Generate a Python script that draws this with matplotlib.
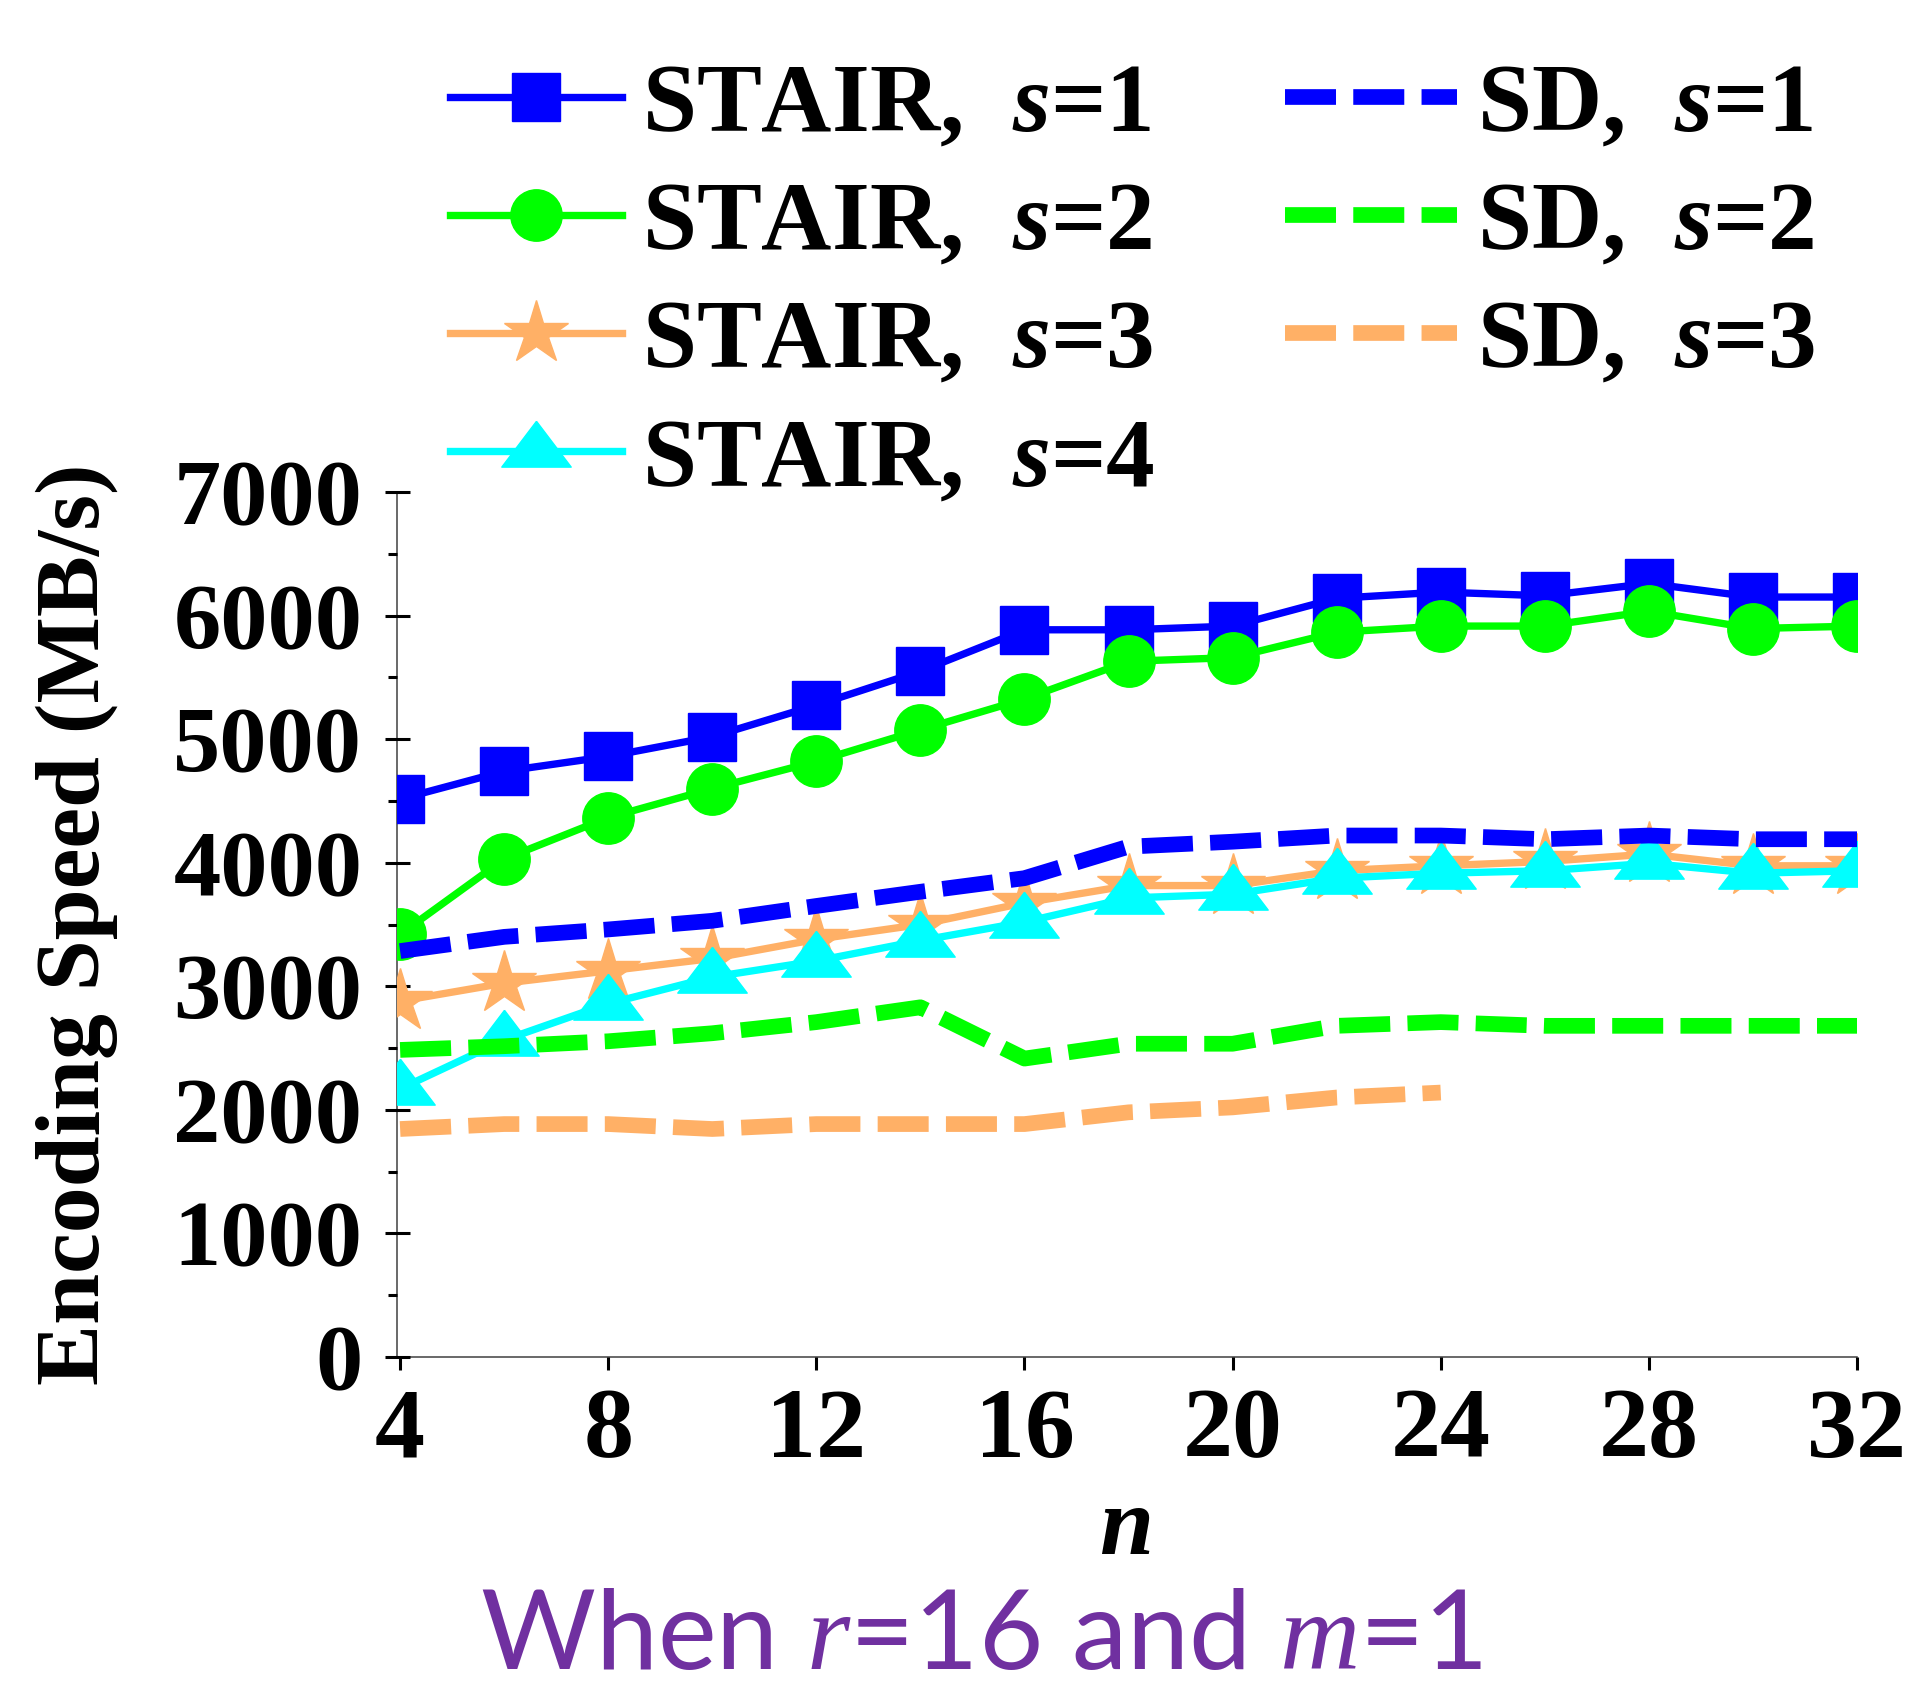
import matplotlib
matplotlib.use("Agg")
import matplotlib.pyplot as plt
import numpy as np

plt.rcParams['font.family'] = ['Liberation Serif', 'DejaVu Serif']
plt.rcParams['font.weight'] = 'bold'
plt.rcParams['mathtext.fontset'] = 'custom'
plt.rcParams['mathtext.rm'] = 'Liberation Serif:bold'
plt.rcParams['mathtext.it'] = 'Liberation Serif:italic:normal'
plt.rcParams['mathtext.bfit'] = 'Liberation Serif:italic:bold'

# data
n = [4, 6, 8, 10, 12, 14, 16, 18, 20, 22, 24, 26, 28, 30, 32]
stair_s1 = [4515, 4740, 4860, 5020, 5275, 5550, 5885, 5885, 5915, 6140, 6190, 6160, 6260, 6150, 6150]
stair_s2 = [3420, 4030, 4365, 4600, 4820, 5075, 5325, 5630, 5660, 5865, 5915, 5915, 6035, 5895, 5915]
stair_s3 = [2880, 3025, 3125, 3225, 3380, 3500, 3675, 3815, 3815, 3935, 3975, 4010, 4070, 3975, 3975]
stair_s4 = [2170, 2565, 2860, 3075, 3205, 3370, 3520, 3715, 3745, 3875, 3915, 3935, 3995, 3915, 3935]
sd_s1 = [3285, 3400, 3460, 3530, 3650, 3765, 3875, 4130, 4170, 4220, 4220, 4190, 4220, 4190, 4190]
sd_s2 = [2485, 2515, 2555, 2620, 2710, 2830, 2415, 2535, 2535, 2680, 2710, 2680, 2680, 2680, 2680]
n_sd3 = [4, 6, 8, 10, 12, 14, 16, 18, 20, 22, 24]
sd_s3 = [1845, 1885, 1885, 1845, 1885, 1885, 1885, 1980, 2020, 2100, 2140]

blue = '#0000FF'
green = '#00FF00'
orange = '#FFB066'
cyan = '#00FFFF'

# flattened triangle like the original
tri = [(0, 0.87), (-1, -0.45), (1, -0.45), (0, 0.87)]

fig = plt.figure(figsize=(19.08, 16.89), dpi=100)
ax = fig.add_axes([397 / 1908, 1 - 1357 / 1689, 1460 / 1908, 865 / 1689])

lw = 5.3
ax.plot(n, stair_s1, color=blue, lw=lw, marker='s', ms=34, label=r'STAIR,  $\mathbfit{s}$=1')
ax.plot(n, stair_s2, color=green, lw=lw, marker='o', ms=37, label=r'STAIR,  $\mathbfit{s}$=2')
ax.plot(n, stair_s3, color=orange, lw=lw, marker='*', ms=48, label=r'STAIR,  $\mathbfit{s}$=3')
ax.plot(n, stair_s4, color=cyan, lw=lw, marker=tri, ms=50, label=r'STAIR,  $\mathbfit{s}$=4')

dlw = 11.3
ax.plot(n, sd_s1, color=blue, lw=dlw, dashes=(3.25, 1.1), label=r'SD,  $\mathbfit{s}$=1')
ax.plot(n, sd_s2, color=green, lw=dlw, dashes=(3.25, 1.1), label=r'SD,  $\mathbfit{s}$=2')
ax.plot(n_sd3, sd_s3, color=orange, lw=dlw, dashes=(3.25, 1.1), label=r'SD,  $\mathbfit{s}$=3')

ax.set_xlim(3.94, 32)
ax.set_ylim(0, 7000)
ax.set_xticks(range(4, 33, 4))
ax.set_yticks(range(0, 7001, 1000))
ax.set_yticks(range(500, 7000, 1000), minor=True)

for side in ['top', 'right']:
    ax.spines[side].set_visible(False)
for side in ['left', 'bottom']:
    ax.spines[side].set_color('#404040')
    ax.spines[side].set_linewidth(1.1)
    ax.spines[side].set_zorder(0.5)

ax.tick_params(axis='y', which='major', direction='inout', length=18, width=2.2, pad=16, labelsize=68)
ax.tick_params(axis='y', which='minor', direction='out', length=6.5, width=2.2)
ax.tick_params(axis='x', which='major', direction='out', length=9, width=2.2, pad=13, labelsize=72)

ax.set_ylabel('Encoding Speed (MB/s)', fontsize=66, fontweight='bold', labelpad=40)
ax.set_xlabel('n', fontsize=70, fontweight='bold', fontstyle='italic', labelpad=6)

fig.legend(loc='upper left', bbox_to_anchor=(450 / 1908, 0.963), ncol=2, frameon=False,
           fontsize=70, handlelength=1.77, handletextpad=0.2, columnspacing=1.35,
           labelspacing=0.3, borderpad=0, borderaxespad=0)

fig.text(0.514, 0.012, r'When $r$=16 and $m$=1', color='#7030A0', fontsize=80,
         family='Lato', fontweight='normal', ha='center', va='baseline')

fig.savefig('out.png', dpi=100)
